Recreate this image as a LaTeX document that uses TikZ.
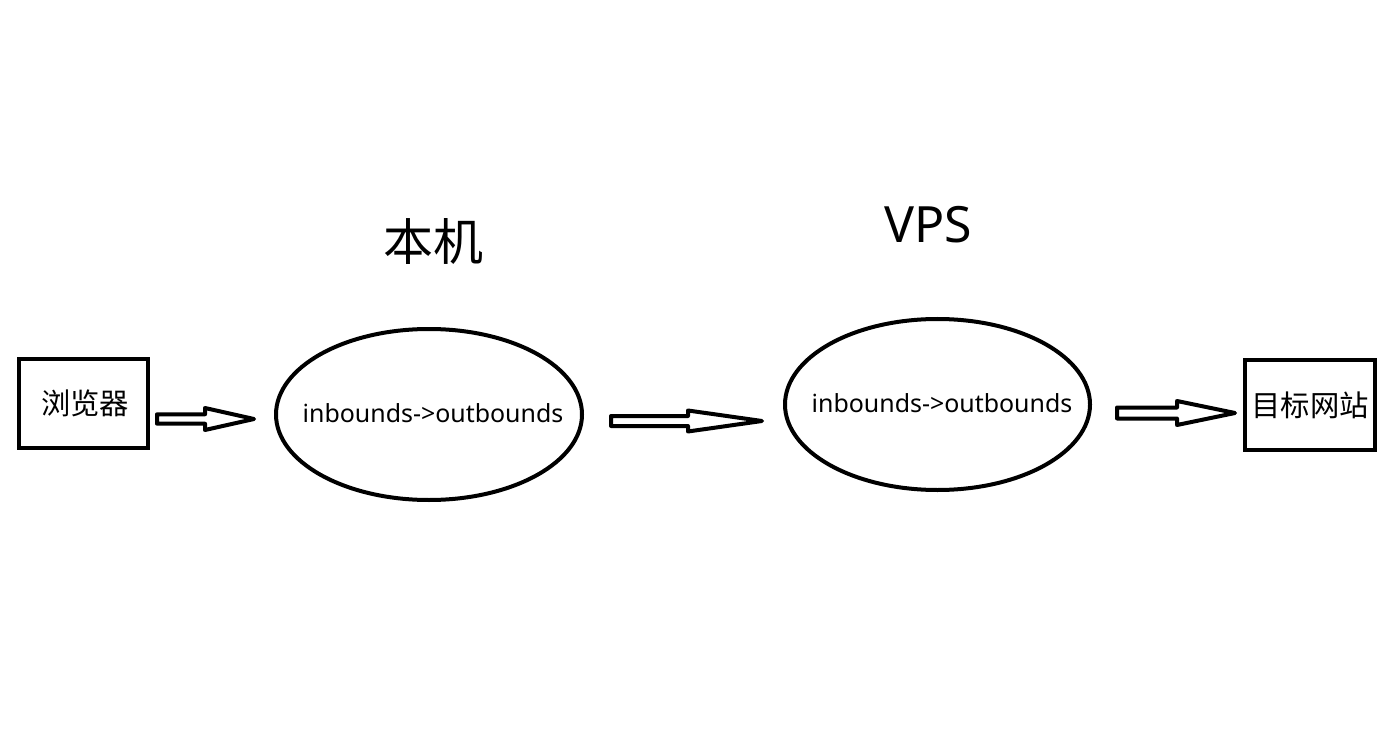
\documentclass[tikz,border=0pt]{standalone}
\usepackage{fontspec}
\setmainfont{Noto Sans}
\newfontfamily\cjk{Noto Sans CJK SC}
\usetikzlibrary{shapes.geometric,calc}
\tikzset{
  headlen/.initial=48, shafthalf/.initial=4, headhalf/.initial=10.5,
  frame/.style={draw, line width=3.2pt, rectangle, inner sep=0pt},
  oval/.style={draw, line width=3pt, ellipse, inner sep=0pt},
  hollowarrow/.style={draw, line width=3pt, line join=round,
    to path={($(\tikztostart)+(0,-\pgfkeysvalueof{/tikz/shafthalf})$)
      -- ($(\tikztotarget)+(-\pgfkeysvalueof{/tikz/headlen},-\pgfkeysvalueof{/tikz/shafthalf})$)
      -- ($(\tikztotarget)+(-\pgfkeysvalueof{/tikz/headlen},-\pgfkeysvalueof{/tikz/headhalf})$)
      -- (\tikztotarget)
      -- ($(\tikztotarget)+(-\pgfkeysvalueof{/tikz/headlen},\pgfkeysvalueof{/tikz/headhalf})$)
      -- ($(\tikztotarget)+(-\pgfkeysvalueof{/tikz/headlen},\pgfkeysvalueof{/tikz/shafthalf})$)
      -- ($(\tikztostart)+(0,\pgfkeysvalueof{/tikz/shafthalf})$) -- cycle}},
  boxtext/.style={anchor=base, inner sep=0pt, font=\cjk\fontsize{22pt}{24pt}\selectfont},
  title/.style={anchor=base, inner sep=0pt},
  ovaltext/.style={anchor=base, inner sep=0pt, font=\fontsize{18.7pt}{20pt}\selectfont}
}
\begin{document}
\begin{tikzpicture}[x=0.75pt, y=-0.75pt]
\useasboundingbox (0,0) rectangle (1392,752);
% boxes
\node[frame, minimum width=96.75pt, minimum height=66.75pt] (browser) at (83.5,403.5) {};
\node[boxtext] (browsertext) at (85,414) {浏览器};
\node[frame, minimum width=97.5pt, minimum height=67.5pt] (target) at (1310,405) {};
\node[boxtext] (targettext) at (1310,416) {目标网站};
% ellipses
\node[oval, minimum width=229.5pt, minimum height=128.25pt] (local) at (429,414.5) {};
\node[ovaltext] (localtext) at (433,422) {inbounds->outbounds};
\node[oval, minimum width=228.75pt, minimum height=128.25pt] (vps) at (937.5,404.5) {};
\node[ovaltext] (vpstext) at (942,412) {inbounds->outbounds};
% titles
\node[title, font=\cjk\fontsize{37.5pt}{40pt}\selectfont] (localtitle) at (433,260.5) {本机};
\node[title, font=\fontsize{37.5pt}{40pt}\selectfont] (vpstitle) at (928.5,243) {VPS};
% arrows
\coordinate (a1s) at (157,419); \coordinate (a1e) at (254,419);
\coordinate (a2s) at (611,421); \coordinate (a2e) at (762,421);
\coordinate (a3s) at (1117,413); \coordinate (a3e) at (1235,413);
\draw[hollowarrow, headlen=49, shafthalf=4.7, headhalf=11] (a1s) to (a1e);
\draw[hollowarrow, headlen=74, shafthalf=5, headhalf=10.5] (a2s) to (a2e);
\draw[hollowarrow, headlen=58, shafthalf=5.5, headhalf=12] (a3s) to (a3e);
\end{tikzpicture}
\end{document}
